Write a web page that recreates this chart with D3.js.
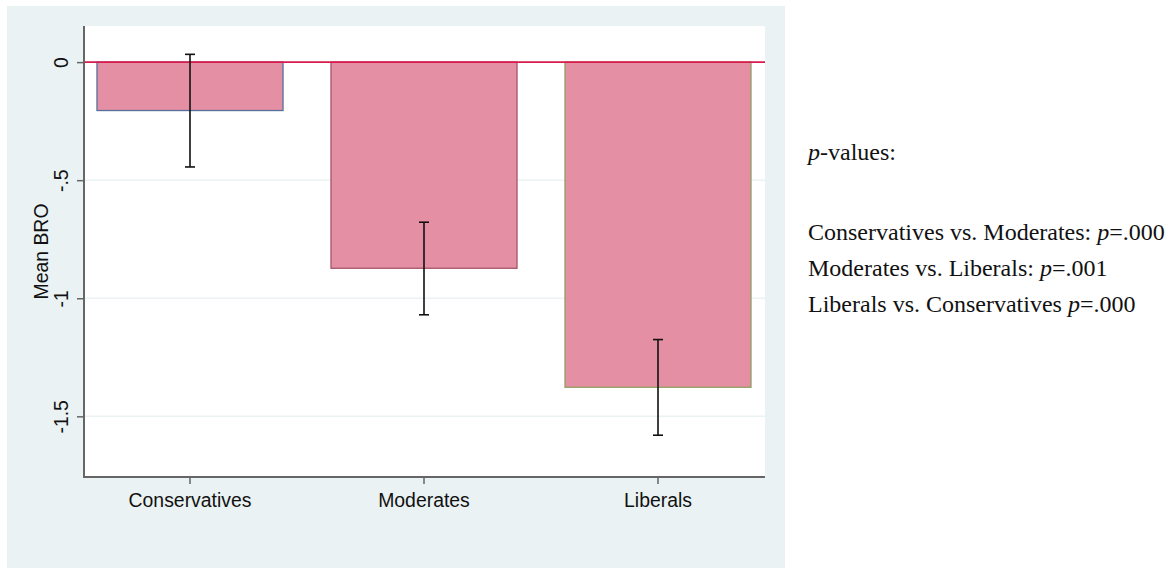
<!DOCTYPE html>
<html>
<head>
<meta charset="utf-8">
<script src="https://cdn.jsdelivr.net/npm/d3@7"></script>
<style>
  html, body { margin: 0; padding: 0; background: #ffffff; }
  svg { display: block; }
</style>
</head>
<body>
<svg id="chart" width="1171" height="569"></svg>
<script>
// Mean BRO by political group, with 95% confidence intervals
const groups = ["Conservatives", "Moderates", "Liberals"];
const meanBRO = [-0.205, -0.873, -1.377];
const ciLower = [-0.444, -1.070, -1.580];
const ciUpper = [0.033, -0.678, -1.175];
const barOutline = ["#56709c", "#a85468", "#92a064"];
const yTicks = [0, -0.5, -1, -1.5];
const yTickLabels = ["0", "-.5", "-1", "-1.5"];

// p-value annotations
const pHeader = "p-values:";
const pRows = [
  { text: "Conservatives vs. Moderates: ", p: ".000" },
  { text: "Moderates vs. Liberals: ", p: ".001" },
  { text: "Liberals vs. Conservatives ", p: ".000" }
];

const svg = d3.select("#chart");

// graph region (light blue-gray) and plot region (white)
const outer = { x0: 7, y0: 6, x1: 785, y1: 568 };
const plot = { x0: 84, y0: 26, x1: 765, y1: 477 };
const sans = "Liberation Sans, Arial, sans-serif";
const axisFont = 19.4;

svg.append("rect")
  .attr("x", outer.x0).attr("y", outer.y0)
  .attr("width", outer.x1 - outer.x0).attr("height", outer.y1 - outer.y0)
  .attr("fill", "#eaf2f3");

svg.append("rect")
  .attr("x", plot.x0).attr("y", plot.y0)
  .attr("width", plot.x1 - plot.x0).attr("height", plot.y1 - plot.y0)
  .attr("fill", "#ffffff");

const y = d3.scaleLinear()
  .domain([-1.757, 0.153])
  .range([plot.y1, plot.y0]);

const x = d3.scaleBand()
  .domain(groups)
  .range([plot.x0, plot.x1 - 1])
  .paddingInner(0.205)
  .paddingOuter(0.0555);

// gridlines
svg.append("g")
  .selectAll("line")
  .data(yTicks.filter(v => v !== 0))
  .join("line")
  .attr("x1", plot.x0).attr("x2", plot.x1)
  .attr("y1", d => y(d)).attr("y2", d => y(d))
  .attr("stroke", "#eaf2f3")
  .attr("stroke-width", 1.5);

// bars
const data = groups.map((g, i) => ({ g, m: meanBRO[i], lo: ciLower[i], hi: ciUpper[i], c: barOutline[i] }));

svg.append("g")
  .selectAll("rect")
  .data(data)
  .join("rect")
  .attr("x", d => x(d.g))
  .attr("y", d => y(Math.max(0, d.m)))
  .attr("width", x.bandwidth())
  .attr("height", d => Math.abs(y(d.m) - y(0)))
  .attr("fill", "#e48fa3")
  .attr("stroke", d => d.c)
  .attr("stroke-width", 1.3);

// zero reference line
svg.append("line")
  .attr("x1", plot.x0).attr("x2", plot.x1)
  .attr("y1", y(0)).attr("y2", y(0))
  .attr("stroke", "#d81b4c")
  .attr("stroke-width", 1.6);

// confidence interval caps
const capHalf = 5;
const eb = svg.append("g")
  .attr("stroke", "#111111")
  .attr("stroke-width", 1.6)
  .attr("fill", "none");

data.forEach(d => {
  const cx = x(d.g) + x.bandwidth() / 2;
  eb.append("line").attr("x1", cx).attr("x2", cx).attr("y1", y(d.hi)).attr("y2", y(d.lo));
  eb.append("line").attr("x1", cx - capHalf).attr("x2", cx + capHalf).attr("y1", y(d.hi)).attr("y2", y(d.hi));
  eb.append("line").attr("x1", cx - capHalf).attr("x2", cx + capHalf).attr("y1", y(d.lo)).attr("y2", y(d.lo));
});

// y axis
const yAxis = d3.axisLeft(y)
  .tickValues(yTicks)
  .tickFormat((d, i) => yTickLabels[i])
  .tickSize(7)
  .tickPadding(0);

const gy = svg.append("g")
  .attr("transform", `translate(${plot.x0},0)`)
  .call(yAxis);
gy.select(".domain").attr("stroke", "#666666").attr("stroke-width", 2)
  .attr("d", `M0,${plot.y0}V${plot.y1}`);
gy.selectAll(".tick line").attr("stroke", "#666666").attr("stroke-width", 1.5);
gy.selectAll(".tick text")
  .attr("font-family", sans)
  .attr("font-size", axisFont)
  .attr("fill", "#111111")
  .attr("text-anchor", "middle")
  .attr("x", 0)
  .attr("dy", 0)
  .attr("transform", "translate(-16,0) rotate(-90)");

// x axis
const xAxis = d3.axisBottom(x)
  .tickSize(7)
  .tickPadding(9);

const gx = svg.append("g")
  .attr("transform", `translate(0,${plot.y1})`)
  .call(xAxis);
gx.select(".domain").attr("stroke", "#666666").attr("stroke-width", 2)
  .attr("d", `M${plot.x0 - 1},0H${plot.x1}`);
gx.selectAll(".tick line").attr("stroke", "#666666").attr("stroke-width", 1.5);
gx.selectAll(".tick text")
  .attr("font-family", sans)
  .attr("font-size", axisFont)
  .attr("fill", "#111111");

// y axis title
svg.append("text")
  .attr("transform", `translate(48,${(plot.y0 + plot.y1) / 2}) rotate(-90)`)
  .attr("text-anchor", "middle")
  .attr("font-family", sans)
  .attr("font-size", axisFont)
  .attr("fill", "#111111")
  .text("Mean BRO");

// p-value notes
const serif = "Liberation Serif, Times New Roman, serif";
const note = svg.append("g")
  .attr("font-family", serif)
  .attr("font-size", 24)
  .attr("fill", "#111111");

const hdr = note.append("text").attr("x", 808).attr("y", 160);
hdr.append("tspan").attr("font-style", "italic").text(pHeader.slice(0, 1));
hdr.append("tspan").text(pHeader.slice(1));

pRows.forEach((r, i) => {
  const t = note.append("text").attr("x", 808).attr("y", 240 + i * 36);
  t.append("tspan").text(r.text);
  t.append("tspan").attr("font-style", "italic").text("p");
  t.append("tspan").text("=" + r.p);
});
</script>
</body>
</html>
